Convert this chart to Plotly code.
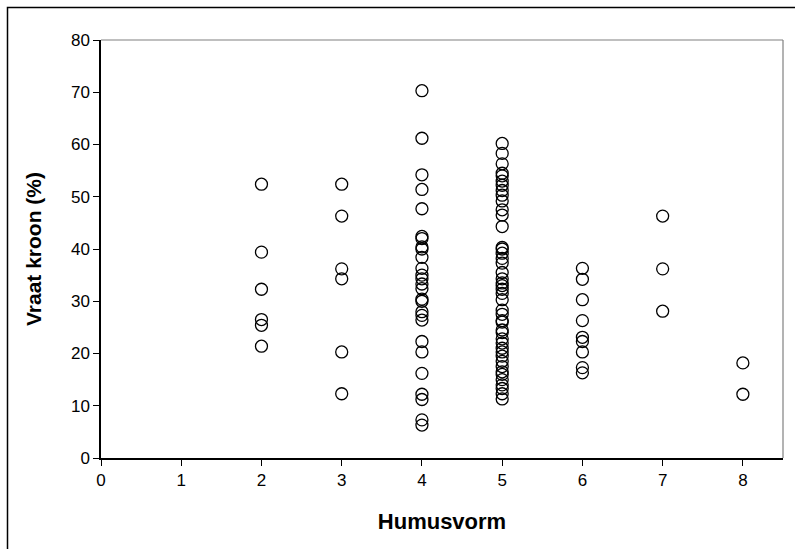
import plotly.graph_objects as go

# Vraat in de kroon per humusvorm
humus_2 = [52.4, 39.4, 32.3, 26.5, 25.4, 21.4]
humus_3 = [52.4, 46.3, 36.2, 34.3, 20.3, 12.3]
humus_4 = [70.3, 61.2, 54.2, 51.4, 47.7, 42.4, 42.0, 40.4, 40.0, 38.4, 36.3,
           35.0, 34.3, 33.3, 32.4, 30.4, 30.0, 28.0, 27.3, 26.4, 22.3, 20.3,
           16.2, 12.2, 11.2, 7.3, 6.3]
humus_5 = [60.2, 58.3, 56.3, 54.5, 54.0, 53.0, 52.2, 51.2, 50.3, 49.2, 47.5,
           46.5, 44.3, 40.3, 40.0, 39.2, 38.2, 37.3, 35.5, 34.3, 33.5, 33.0,
           32.3, 31.5, 30.3, 28.3, 27.5, 26.3, 26.0, 24.5, 24.0, 22.8, 22.0,
           21.0, 20.3, 19.5, 18.5, 17.5, 16.5, 16.0, 15.0, 14.0, 13.3, 12.3,
           11.3]
humus_6 = [36.3, 34.2, 30.3, 26.3, 23.1, 22.3, 20.3, 17.3, 16.3]
humus_7 = [46.3, 36.2, 28.1]
humus_8 = [18.2, 12.2]

groups = {2: humus_2, 3: humus_3, 4: humus_4, 5: humus_5,
          6: humus_6, 7: humus_7, 8: humus_8}

xs, ys = [], []
for k, vals in groups.items():
    xs += [k] * len(vals)
    ys += vals

x_ticks = [0, 1, 2, 3, 4, 5, 6, 7, 8]
y_ticks = [0, 10, 20, 30, 40, 50, 60, 70, 80]

W, H = 795, 549
L, R, T, B = 101, 12, 40, 91
pw, ph = W - L - R, H - T - B

fig = go.Figure(go.Scatter(
    x=xs, y=ys, mode="markers",
    marker=dict(symbol="circle-open", size=12, color="black",
                line=dict(width=1.3, color="black")),
    showlegend=False,
))

family = "Liberation Sans, Arial, sans-serif"
font = dict(family=family, size=17, color="black")

fig.update_layout(
    width=W, height=H,
    margin=dict(l=L, r=R, t=T, b=B),
    paper_bgcolor="white", plot_bgcolor="white",
    font=font,
    xaxis=dict(
        range=[0, 8.5], tickvals=x_ticks, ticktext=[str(v) for v in x_ticks],
        showgrid=False, zeroline=False, showline=True, linecolor="black",
        linewidth=1.5, ticks="outside", ticklen=6, tickcolor="black",
        tickfont=font,
        title=dict(text="<b>Humusvorm</b>", font=dict(size=22, family=family),
                   standoff=24),
    ),
    yaxis=dict(
        range=[0, 80], tickvals=y_ticks, ticktext=[str(v) for v in y_ticks],
        showgrid=False, zeroline=False, showline=True, linecolor="black",
        linewidth=1.5, ticks="outside", ticklen=6, tickcolor="black",
        tickfont=font,
        title=dict(text="<b>Vraat kroon (%)</b>", font=dict(size=21, family=family),
                   standoff=24),
    ),
)


def px_x(p):
    return (p - L) / pw


def px_y(p):
    return (H - B - p) / ph


# grey top and right edge of the plot area
fig.add_shape(type="line", xref="paper", yref="paper", x0=0, x1=1, y0=1, y1=1,
              line=dict(color="#808080", width=1.2))
fig.add_shape(type="line", xref="paper", yref="paper", x0=1, x1=1, y0=0, y1=1,
              line=dict(color="#808080", width=1.2))
# outer chart frame
fig.add_shape(type="rect", xref="paper", yref="paper",
              x0=px_x(7.5), x1=px_x(810), y0=px_y(7.5), y1=px_y(570),
              line=dict(color="black", width=1.5), fillcolor="rgba(0,0,0,0)",
              layer="below")

fig.write_html("out.html")
